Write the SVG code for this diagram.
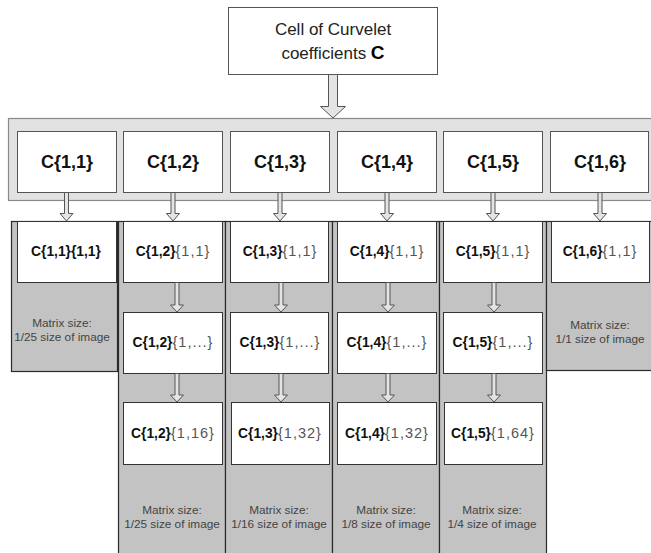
<svg xmlns="http://www.w3.org/2000/svg" width="651" height="553" viewBox="0 0 651 553">
<style>
text{font-family:"Liberation Sans",Arial,sans-serif}
.box{fill:#fff;stroke:#555;stroke-width:1}
.ibox{fill:#fff;stroke:#333;stroke-width:1}
.col{fill:#c3c3c3;stroke:#2a2a2a;stroke-width:1.2}
.outer{fill:#e2e2e2;stroke:#8a8a8a;stroke-width:1.2}
.arrow{fill:#e4e4e4;stroke:#555;stroke-width:1}
.top{font-size:17px;fill:#222;text-anchor:middle}
.lvl{font-size:18px;font-weight:bold;fill:#111;text-anchor:middle}
.lbl{font-size:13.8px;text-anchor:middle}
.b{font-weight:bold;fill:#111}
.g{fill:#555;font-size:14.5px;letter-spacing:1px}
.ms{fill:#444;text-anchor:middle;font-size:11.8px}
</style>
<g id="root">
<rect class="box" x="228.5" y="7.5" width="209" height="67"/>
<text class="top" x="333" y="35">Cell of Curvelet</text>
<text class="top" x="333" y="59">coefficients <tspan font-weight="bold" fill="#000" font-size="19">C</tspan></text>
</g>
<g id="container">
<rect class="outer" x="8.5" y="118.5" width="660" height="82"/>
</g>
<g id="columns">
<rect class="col" x="11.5" y="221.5" width="106" height="150"/>
<rect class="col" x="118.5" y="221.5" width="107" height="340"/>
<rect class="col" x="225.5" y="221.5" width="107" height="340"/>
<rect class="col" x="332.5" y="221.5" width="107" height="340"/>
<rect class="col" x="439.5" y="221.5" width="107" height="340"/>
<rect class="col" x="546.5" y="221.5" width="110" height="149"/>
</g>
<g id="level-nodes">
<g id="c11"><rect class="box" x="17.5" y="131.5" width="99" height="61"/><text class="lvl" x="67" y="168">C{1,1}</text></g>
<g id="c12"><rect class="box" x="123.5" y="131.5" width="99" height="61"/><text class="lvl" x="173" y="168">C{1,2}</text></g>
<g id="c13"><rect class="box" x="230.5" y="131.5" width="99" height="61"/><text class="lvl" x="280" y="168">C{1,3}</text></g>
<g id="c14"><rect class="box" x="337.5" y="131.5" width="99" height="61"/><text class="lvl" x="387" y="168">C{1,4}</text></g>
<g id="c15"><rect class="box" x="443.5" y="131.5" width="99" height="61"/><text class="lvl" x="493" y="168">C{1,5}</text></g>
<g id="c16"><rect class="box" x="550.5" y="131.5" width="98" height="61"/><text class="lvl" x="600" y="168">C{1,6}</text></g>
</g>
<g id="sub-nodes">
<g id="c11-1"><rect class="ibox" x="17.5" y="221.5" width="99" height="61"/><text class="lbl" x="66" y="256" font-size="14.2"><tspan class="b">C{1,1}{1,1}</tspan></text></g>
<g id="c12-1"><rect class="ibox" x="123.5" y="221.5" width="99" height="61"/><text class="lbl" x="173" y="256"><tspan class="b">C{1,2}</tspan><tspan class="g">{1,1}</tspan></text></g>
<g id="c12-2"><rect class="ibox" x="123.5" y="312.5" width="99" height="61"/><text class="lbl" x="173" y="347"><tspan class="b">C{1,2}</tspan><tspan class="g">{1,...}</tspan></text></g>
<g id="c12-3"><rect class="ibox" x="123.5" y="402.5" width="99" height="62"/><text class="lbl" x="173" y="438"><tspan class="b">C{1,2}</tspan><tspan class="g">{1,16}</tspan></text></g>
<g id="c13-1"><rect class="ibox" x="230.5" y="221.5" width="98" height="61"/><text class="lbl" x="280" y="256"><tspan class="b">C{1,3}</tspan><tspan class="g">{1,1}</tspan></text></g>
<g id="c13-2"><rect class="ibox" x="230.5" y="312.5" width="98" height="61"/><text class="lbl" x="280" y="347"><tspan class="b">C{1,3}</tspan><tspan class="g">{1,...}</tspan></text></g>
<g id="c13-3"><rect class="ibox" x="231.5" y="402.5" width="98" height="62"/><text class="lbl" x="280" y="438"><tspan class="b">C{1,3}</tspan><tspan class="g">{1,32}</tspan></text></g>
<g id="c14-1"><rect class="ibox" x="337.5" y="221.5" width="99" height="61"/><text class="lbl" x="387" y="256"><tspan class="b">C{1,4}</tspan><tspan class="g">{1,1}</tspan></text></g>
<g id="c14-2"><rect class="ibox" x="337.5" y="312.5" width="99" height="61"/><text class="lbl" x="387" y="347"><tspan class="b">C{1,4}</tspan><tspan class="g">{1,...}</tspan></text></g>
<g id="c14-3"><rect class="ibox" x="337.5" y="402.5" width="99" height="62"/><text class="lbl" x="387" y="438"><tspan class="b">C{1,4}</tspan><tspan class="g">{1,32}</tspan></text></g>
<g id="c15-1"><rect class="ibox" x="443.5" y="221.5" width="99" height="61"/><text class="lbl" x="493" y="256"><tspan class="b">C{1,5}</tspan><tspan class="g">{1,1}</tspan></text></g>
<g id="c15-2"><rect class="ibox" x="443.5" y="312.5" width="99" height="61"/><text class="lbl" x="493" y="347"><tspan class="b">C{1,5}</tspan><tspan class="g">{1,...}</tspan></text></g>
<g id="c15-3"><rect class="ibox" x="444.5" y="402.5" width="98" height="62"/><text class="lbl" x="493" y="438"><tspan class="b">C{1,5}</tspan><tspan class="g">{1,64}</tspan></text></g>
<g id="c16-1"><rect class="ibox" x="551.5" y="221.5" width="98" height="61"/><text class="lbl" x="600" y="256"><tspan class="b">C{1,6}</tspan><tspan class="g">{1,1}</tspan></text></g>
</g>
<g id="size-labels">
<text class="ms" x="62" y="327" font-size="12.2">Matrix size:</text>
<text class="ms" x="62" y="341" font-size="12.2">1/25 size of image</text>
<text class="ms" x="600" y="329">Matrix size:</text>
<text class="ms" x="600" y="343">1/1 size of image</text>
<text class="ms" x="172" y="514">Matrix size:</text>
<text class="ms" x="172" y="528">1/25 size of image</text>
<text class="ms" x="279" y="514">Matrix size:</text>
<text class="ms" x="279" y="528">1/16 size of image</text>
<text class="ms" x="386" y="514">Matrix size:</text>
<text class="ms" x="386" y="528">1/8 size of image</text>
<text class="ms" x="492" y="514">Matrix size:</text>
<text class="ms" x="492" y="528">1/4 size of image</text>
</g>
<g id="connectors">
<polygon class="arrow" points="328.5,74.5 337.5,74.5 337.5,106.5 345.5,106.5 333,118 320.5,106.5 328.5,106.5"/>
<polygon class="arrow" points="64.5,192.5 68.5,192.5 68.5,213.5 73,213.5 66.5,221 60,213.5 64.5,213.5"/>
<polygon class="arrow" points="171,192.5 175,192.5 175,213.5 179.5,213.5 173,221 166.5,213.5 171,213.5"/>
<polygon class="arrow" points="278,192.5 282,192.5 282,213.5 286.5,213.5 280,221 273.5,213.5 278,213.5"/>
<polygon class="arrow" points="385,192.5 389,192.5 389,213.5 393.5,213.5 387,221 380.5,213.5 385,213.5"/>
<polygon class="arrow" points="491,192.5 495,192.5 495,213.5 499.5,213.5 493,221 486.5,213.5 491,213.5"/>
<polygon class="arrow" points="598,192.5 602,192.5 602,213.5 606.5,213.5 600,221 593.5,213.5 598,213.5"/>
<polygon class="arrow" points="175,282.5 179,282.5 179,305 183.5,305 177,312 170.5,305 175,305"/>
<polygon class="arrow" points="175,373.5 179,373.5 179,395 183.5,395 177,402 170.5,395 175,395"/>
<polygon class="arrow" points="279,282.5 283,282.5 283,305 287.5,305 281,312 274.5,305 279,305"/>
<polygon class="arrow" points="279,373.5 283,373.5 283,395 287.5,395 281,402 274.5,395 279,395"/>
<polygon class="arrow" points="386,282.5 390,282.5 390,305 394.5,305 388,312 381.5,305 386,305"/>
<polygon class="arrow" points="386,373.5 390,373.5 390,395 394.5,395 388,402 381.5,395 386,395"/>
<polygon class="arrow" points="492,282.5 496,282.5 496,305 500.5,305 494,312 487.5,305 492,305"/>
<polygon class="arrow" points="492,373.5 496,373.5 496,395 500.5,395 494,402 487.5,395 492,395"/>
</g>
</svg>
